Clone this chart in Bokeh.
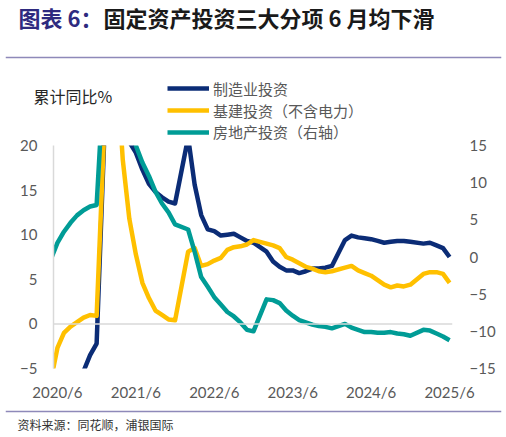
from bokeh.plotting import figure
from bokeh.models import (Range1d, LinearAxis, FixedTicker, Span, Label, Legend, LegendItem)
from bokeh.layouts import column
from bokeh.embed import file_html
from bokeh.resources import INLINE

# ---------------- data ----------------
dates = ["2020/5", "2020/6", "2020/7", "2020/8", "2020/9", "2020/10", "2020/11", "2020/12",
         "2021/2", "2021/3", "2021/4", "2021/5", "2021/6", "2021/7", "2021/8", "2021/9", "2021/10", "2021/11", "2021/12",
         "2022/2", "2022/3", "2022/4", "2022/5", "2022/6", "2022/7", "2022/8", "2022/9", "2022/10", "2022/11", "2022/12",
         "2023/2", "2023/3", "2023/4", "2023/5", "2023/6", "2023/7", "2023/8", "2023/9", "2023/10", "2023/11", "2023/12",
         "2024/2", "2024/3", "2024/4", "2024/5", "2024/6", "2024/7", "2024/8", "2024/9", "2024/10", "2024/11", "2024/12",
         "2025/2", "2025/3", "2025/4", "2025/5", "2025/6"]

manufacturing = [-14.8, -11.7, -10.2, -8.1, -6.5, -5.3, -3.5, -2.2,
                 37.3, 29.8, 23.8, 20.4, 19.2, 17.3, 15.7, 14.8, 14.2, 13.7, 13.5,
                 20.9, 15.6, 12.2, 10.6, 10.4, 9.9, 10.0, 10.1, 9.7, 9.3, 9.1,
                 8.1, 7.0, 6.4, 6.0, 6.0, 5.7, 5.9, 6.2, 6.2, 6.3, 6.5,
                 9.4, 9.9, 9.7, 9.6, 9.5, 9.3, 9.1, 9.2, 9.3, 9.3, 9.2,
                 9.0, 9.1, 8.8, 8.5, 7.5]

infrastructure = [-6.3, -2.7, -1.0, -0.3, 0.2, 0.7, 1.0, 0.9,
                  36.6, 29.7, 18.4, 11.8, 7.8, 4.6, 2.9, 1.5, 1.0, 0.5, 0.4,
                  8.1, 8.5, 6.5, 6.7, 7.1, 7.4, 8.3, 8.6, 8.7, 8.9, 9.4,
                  9.0, 8.8, 8.5, 7.5, 7.2, 6.8, 6.4, 6.2, 5.9, 5.8, 5.9,
                  6.3, 6.5, 6.0, 5.7, 5.4, 4.9, 4.4, 4.1, 4.3, 4.2, 4.4,
                  5.6, 5.8, 5.8, 5.6, 4.6]

real_estate = [-0.3, 1.9, 3.4, 4.6, 5.6, 6.3, 6.8, 7.0,
               38.3, 25.6, 21.6, 18.3, 15.0, 12.7, 10.9, 8.8, 7.2, 6.0, 4.4,
               3.7, 0.7, -2.7, -4.0, -5.4, -6.4, -7.4, -8.0, -8.8, -9.8, -10.0,
               -5.7, -5.8, -6.2, -7.2, -7.9, -8.5, -8.8, -9.1, -9.3, -9.4, -9.6,
               -9.0, -9.5, -9.8, -10.1, -10.1, -10.2, -10.2, -10.1, -10.3, -10.4, -10.6,
               -9.8, -9.9, -10.3, -10.7, -11.2]

x_tick_labels = ["2020/6", "2021/6", "2022/6", "2023/6", "2024/6", "2025/6"]
left_ticks = [-5, 0, 5, 10, 15, 20]
right_ticks = [-15, -10, -5, 0, 5, 10, 15]
series_names = ["制造业投资", "基建投资（不含电力）", "房地产投资（右轴）"]

title_a = "图表 6："
title_b = "固定资产投资三大分项 6 月均下滑"
unit_text = "累计同比%"
source_text = "资料来源：同花顺，浦银国际"

# ---------------- styles ----------------
C_BLUE = "#0B2C76"
C_YELLOW = "#FFC000"
C_TEAL = "#009C96"
C_TICK = "#595959"
C_RULE = "#8E89B9"
CJK = "Noto Sans CJK SC"
NUM = "Lato"
W = 506
OVERLAP = 7


def to_x(d):
    y, m = d.split("/")
    return int(y) * 12 + int(m) - 1


def no_align(fig):
    try:
        fig.frame_align = False
    except Exception:
        pass


xs = [to_x(d) for d in dates]
tick_x = [to_x(t) for t in x_tick_labels]

# ---------------- top: title, rule, unit, legend ----------------
TOP_H = 143
top = figure(width=W, height=TOP_H, x_range=Range1d(5, W - 5), y_range=Range1d(0, TOP_H),
             x_axis_type=None, y_axis_type=None,
             min_border_left=5, min_border_right=5, min_border_top=0, min_border_bottom=0,
             toolbar_location=None, output_backend="svg")
no_align(top)
top.grid.visible = False
top.outline_line_color = None
top.add_layout(Span(location=TOP_H - 57, dimension="width", line_color=C_RULE, line_width=1.5))
top.add_layout(Label(x=18, y=TOP_H - 16, text=title_a, text_font=CJK, text_font_size="22px",
                     text_font_style="bold", text_color="#2E2A7F", text_baseline="middle"))
top.add_layout(Label(x=103, y=TOP_H - 16, text=title_b, text_font=CJK, text_font_size="22px",
                     text_font_style="bold", text_color="#1A1A1A", text_baseline="middle"))
top.add_layout(Label(x=33, y=TOP_H - 95, text=unit_text, text_font=CJK, text_font_size="16px",
                     text_color="#262626", text_baseline="middle"))

# legend keys: the same series drawn in this panel (their x values lie outside its range)
g1 = top.line(xs, manufacturing, line_color=C_BLUE, line_width=4.5)
g2 = top.line(xs, infrastructure, line_color=C_YELLOW, line_width=4.5)
g3 = top.line(xs, real_estate, line_color=C_TEAL, line_width=4.5)

row_centers = [88.2, 110.0, 131.8]
for name, rend, c in zip(series_names, [g1, g2, g3], row_centers):
    lg = Legend(items=[LegendItem(label=name, renderers=[rend])],
                location=(162, TOP_H - (c + 15)), orientation="vertical",
                glyph_width=42, glyph_height=30, label_height=30, label_standoff=4,
                spacing=0, padding=0, margin=0,
                border_line_color=None, background_fill_alpha=0,
                label_text_font=CJK, label_text_font_size="15px", label_text_color=C_TICK)
    top.add_layout(lg)

# ---------------- main chart ----------------
MAIN_H = 267
p = figure(width=W, height=MAIN_H,
           x_range=Range1d(tick_x[0] - 0.6, tick_x[-1] + 0.45),
           y_range=Range1d(left_ticks[0], left_ticks[-1]),
           min_border_left=53, min_border_right=54, min_border_top=9, min_border_bottom=35,
           toolbar_location=None, output_backend="svg")
no_align(p)
p.border_fill_alpha = 0
try:
    p.margin = (-OVERLAP, 0, 0, 0)
except Exception:
    p.styles = {"margin-top": "-%dpx" % OVERLAP}
p.extra_y_ranges = {"re": Range1d(right_ticks[0], right_ticks[-1])}
p.grid.visible = False
p.outline_line_color = None

p.add_layout(Span(location=0, dimension="width", line_color="#D9D9D9", line_width=1.5))

r1 = p.line(xs, manufacturing, line_color=C_BLUE, line_width=4.5, line_join="round")
r2 = p.line(xs, infrastructure, line_color=C_YELLOW, line_width=4.5, line_join="round")
r3 = p.line(xs, real_estate, line_color=C_TEAL, line_width=4.5, line_join="round", y_range_name="re")

xa = p.xaxis[0]
xa.ticker = FixedTicker(ticks=tick_x)
xa.major_label_overrides = {t: l for t, l in zip(tick_x, x_tick_labels)}
xa.axis_line_color = None
xa.major_tick_line_color = None
xa.minor_tick_line_color = None
xa.major_tick_out = 0
xa.major_label_standoff = 14
xa.major_label_text_font = NUM
xa.major_label_text_font_size = "15px"
xa.major_label_text_color = C_TICK

ya = p.yaxis[0]
ya.ticker = FixedTicker(ticks=left_ticks)
ya.axis_line_color = "#D9D9D9"
ya.axis_line_width = 1.5
ya.major_tick_line_color = None
ya.minor_tick_line_color = None
ya.major_tick_out = 0
ya.major_label_standoff = 16
ya.major_label_text_font = NUM
ya.major_label_text_font_size = "15px"
ya.major_label_text_color = C_TICK

yr = LinearAxis(y_range_name="re", ticker=FixedTicker(ticks=right_ticks))
yr.axis_line_color = None
yr.major_tick_line_color = None
yr.minor_tick_line_color = None
yr.major_tick_out = 0
yr.major_label_standoff = 17
yr.major_label_text_font = NUM
yr.major_label_text_font_size = "15px"
yr.major_label_text_color = C_TICK
p.add_layout(yr, "right")

# ---------------- bottom: rule + source ----------------
BOT_H = 34
bot = figure(width=W, height=BOT_H, x_range=Range1d(5, W - 5), y_range=Range1d(0, BOT_H),
             x_axis_type=None, y_axis_type=None,
             min_border_left=5, min_border_right=5, min_border_top=0, min_border_bottom=0,
             toolbar_location=None, output_backend="svg")
no_align(bot)
bot.grid.visible = False
bot.outline_line_color = None
bot.add_layout(Span(location=BOT_H - 8, dimension="width", line_color=C_RULE, line_width=1.5))
bot.add_layout(Label(x=17, y=BOT_H - 21, text=source_text, text_font=CJK, text_font_size="12px",
                     text_color="#333333", text_baseline="middle"))

layout = column(top, p, bot, spacing=0)
open("out.html", "w").write(file_html(layout, INLINE))
